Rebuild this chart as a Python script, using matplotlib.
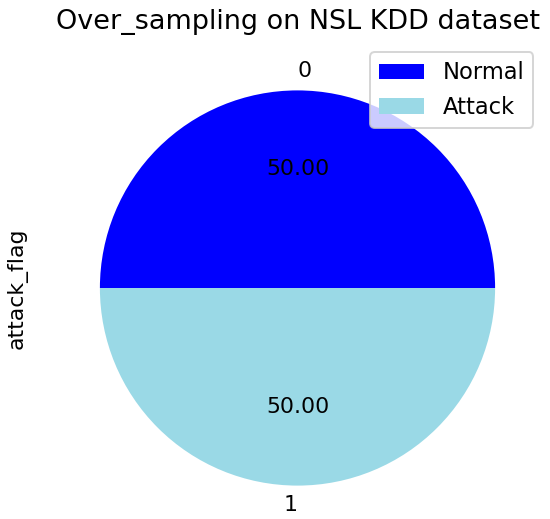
import matplotlib
matplotlib.use("Agg")
import matplotlib.pyplot as plt

# Data
categories = ["0", "1"]
values = [50, 50]
legend_labels = ["Normal", "Attack"]
colors = ["#0000ff", "#9ad9e6"]
title = "Over_sampling on NSL KDD dataset"
ylabel = "attack_flag"

DPI = 144
W, H = 550, 519
fig = plt.figure(figsize=(W / DPI, H / DPI), dpi=DPI)

# axes placed in pixel terms: square of 494 px, centered on pie center
side = 494.0
cx, cy = 297.5, 288.0
left = (cx - side / 2) / W
bottom = (H - (cy + side / 2)) / H
ax = fig.add_axes([left, bottom, side / W, side / H])

wedges, texts, autotexts = ax.pie(values, labels=categories, colors=colors,
                                  autopct="%.2f", startangle=0,
                                  textprops={"fontsize": 11})
texts[0].set_horizontalalignment("left")
texts[1].set_horizontalalignment("right")
ax.set_aspect("equal")
ax.set_title(title, fontsize=13.5)
ax.set_ylabel(ylabel, fontsize=11)
ax.yaxis.set_label_coords((28 - (cx - side / 2)) / side, 0.5)
ax.legend(wedges, legend_labels, loc="upper right", fontsize=11.3)

fig.savefig("out.png", dpi=DPI)
